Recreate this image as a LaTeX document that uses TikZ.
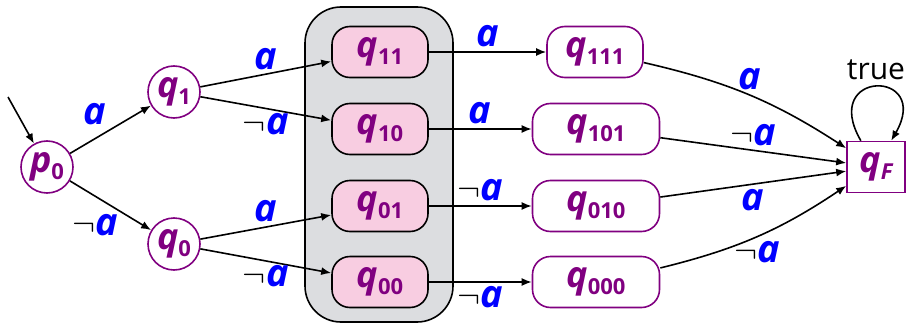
\documentclass[tikz,border=0pt]{standalone}
\usepackage{fontspec}
\setsansfont{Open Sans}
\usetikzlibrary{positioning,arrows.meta}
\definecolor{stcol}{RGB}{128,0,128}
\definecolor{pinkfill}{RGB}{248,205,225}
\definecolor{boxgray}{RGB}{220,221,224}
\definecolor{lblblue}{RGB}{0,0,255}
\newcommand{\sname}[2]{\textbf{\textit{#1}}\raisebox{-0.35ex}{\fontsize{11}{11}\selectfont\bfseries #2}}
\newcommand{\posa}{\textcolor{lblblue}{\textbf{\textit{a}}}}
\newcommand{\nega}{$\neg$\posa}

\begin{document}
\begin{tikzpicture}[x=0.5pt, y=-0.5pt,
    font=\sffamily\fontsize{18}{20}\selectfont,
    st/.style={draw=stcol, line width=0.8pt, text=stcol, circle, minimum size=26pt, inner sep=0pt},
    rst/.style={draw=stcol, line width=0.8pt, text=stcol, rounded corners=9pt, minimum height=25.5pt, minimum width=48pt, inner sep=0pt},
    inst/.style={rst, draw=black, fill=pinkfill},
    fin/.style={draw=stcol, line width=0.8pt, text=stcol, minimum width=29pt, minimum height=25.5pt, inner sep=0pt},
    lbl/.style={font=\sffamily\fontsize{19}{20}\selectfont, inner sep=2pt},
    tr/.style={-{Latex[length=5pt,width=4pt]}, line width=0.8pt}]
    \useasboundingbox (0,0) rectangle (908,326);

    \node[draw, fill=boxgray, rounded corners=18pt, line width=0.8pt, minimum width=74pt, minimum height=157.5pt] (grp) at (379,164.5) {};

    \node[st]                 (p0)   at (47,167)  {\sname{p}{0}};
    \node[st]                 (q1)   at (174,92)  {\sname{q}{1}};
    \node[st]                 (q0)   at (174,244) {\sname{q}{0}};
    \node[inst]               (q11)  at (380,52)  {\sname{q}{11}};
    \node[inst, below=38.5pt of q11.center, anchor=center] (q10) {\sname{q}{10}};
    \node[inst]               (q01)  at (380,206) {\sname{q}{01}};
    \node[inst, below=38pt of q01.center, anchor=center] (q00) {\sname{q}{00}};
    \node[rst]                (q111) at (595,52)  {\sname{q}{111}};
    \node[rst, minimum width=63.5pt] (q101) at (596,129) {\sname{q}{101}};
    \node[rst, minimum width=63.5pt] (q010) at (596,206) {\sname{q}{010}};
    \node[rst, minimum width=63.5pt] (q000) at (596,282) {\sname{q}{000}};
    \node[fin]                (qF)   at (876,167) {\sname{q}{\itshape F}};
    \coordinate (init) at (8,97);

    \draw[tr] (init) -- (p0);
    \draw[tr] (p0) -- node[lbl, above left] {\posa} (q1);
    \draw[tr] (p0) -- node[lbl, below left, xshift=6pt, yshift=-2pt] {\nega} (q0);
    \draw[tr] (q1) -- node[lbl, above] {\posa} (q11);
    \draw[tr] (q1) -- node[lbl, below] {\nega} (q10);
    \draw[tr] (q0) -- node[lbl, above] {\posa} (q01);
    \draw[tr] (q0) -- node[lbl, below] {\nega} (q00);
    \draw[tr] (q11) -- node[lbl, above] {\posa} (q111);
    \draw[tr] (q10) -- node[lbl, above] {\posa} (q101);
    \draw[tr] (q01) -- node[lbl, above] {\nega} (q010);
    \draw[tr] (q00) -- node[lbl, below] {\nega} (q000);
    \draw[tr] (q111) to[bend left=10] node[lbl, above] {\posa} (qF);
    \draw[tr] (q101) -- node[lbl, above] {\nega} (qF);
    \draw[tr] (q010) -- node[lbl, below] {\posa} (qF);
    \draw[tr] (q000) to[bend right=10] node[lbl, below] {\nega} (qF);
    \draw[tr] (qF) to[out=120, in=60, looseness=7] node[above, font=\sffamily\fontsize{15}{16}\selectfont] {true} (qF);
\end{tikzpicture}
\end{document}
